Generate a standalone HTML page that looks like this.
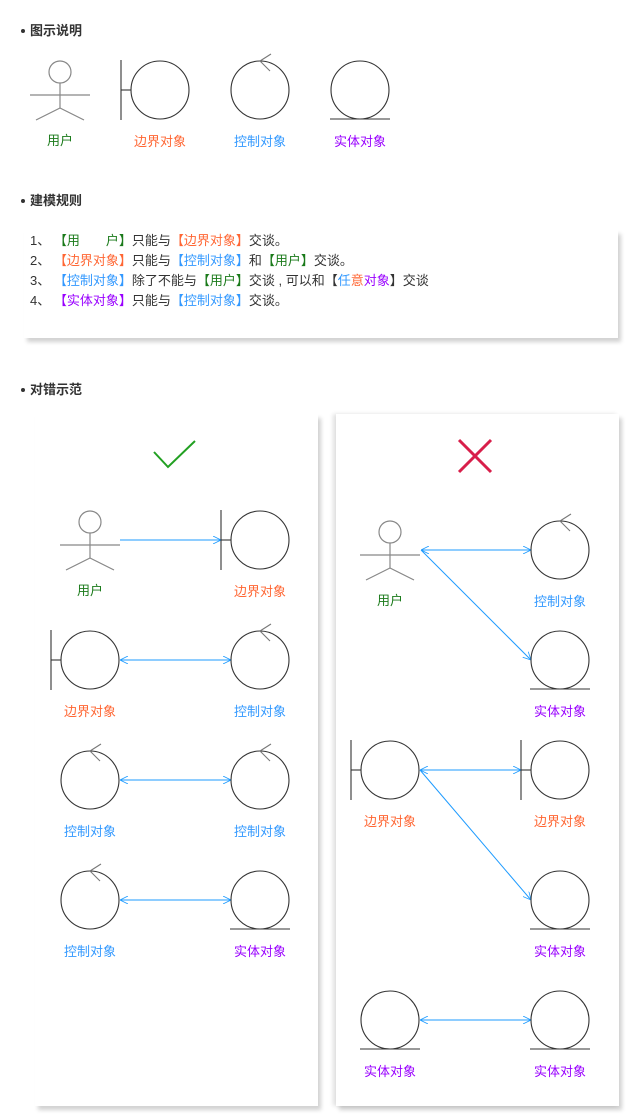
<!DOCTYPE html>
<html><head><meta charset="utf-8"><style>
body{margin:0;background:#fff;width:630px;height:1120px;overflow:hidden;position:relative;font-family:"Liberation Sans","Noto Sans CJK SC",sans-serif}
.box{position:absolute;background:#fff;box-shadow:3px 4px 4px rgba(0,0,0,.18)}
svg{position:absolute;left:0;top:0}
</style></head><body>
<div class="box" style="left:24px;top:230px;width:594px;height:108px"></div>
<div class="box" style="left:35px;top:414px;width:283px;height:692px"></div>
<div class="box" style="left:336px;top:414px;width:283px;height:692px;box-shadow:3px 4px 4px rgba(0,0,0,.18),-3px 0 4px rgba(0,0,0,.12)"></div>
<svg width="630" height="1120" viewBox="0 0 630 1120" font-family="Liberation Sans, Noto Sans CJK SC, sans-serif">
<defs>
<marker id="a" viewBox="0 0 10 10" refX="10" refY="5" markerWidth="8" markerHeight="8" orient="auto-start-reverse" markerUnits="userSpaceOnUse"><path d="M0,0 L10,5 L0,10" fill="none" stroke="#1e9bff" stroke-width="1"/></marker>
<g id="actor" stroke="#888" stroke-width="1.2" fill="none"><circle cx="0" cy="0" r="11" fill="#fff"/><line x1="0" y1="11" x2="0" y2="36"/><line x1="-30" y1="23" x2="30" y2="23"/><line x1="0" y1="36" x2="-24" y2="48"/><line x1="0" y1="36" x2="24" y2="48"/></g>
<g id="bnd" stroke="#333" stroke-width="1.1" fill="none"><circle cx="0" cy="0" r="29"/><line x1="-39" y1="-30" x2="-39" y2="30"/><line x1="-39" y1="0" x2="-29" y2="0"/></g>
<g id="ctl" stroke="#333" stroke-width="1.1" fill="none"><circle cx="0" cy="0" r="29"/><line x1="0" y1="-29" x2="11" y2="-36" stroke="#777"/><line x1="0" y1="-29" x2="10" y2="-19" stroke="#777"/></g>
<g id="ent" stroke="#333" stroke-width="1.1" fill="none"><circle cx="0" cy="0" r="29"/><line x1="-30" y1="29" x2="30" y2="29"/></g>
</defs>
<g font-size="13" font-weight="bold" fill="#333">
<circle cx="23" cy="31" r="2" fill="#333"/><text x="30" y="35">图示说明</text>
<circle cx="23" cy="201" r="2" fill="#333"/><text x="30" y="205">建模规则</text>
<circle cx="23" cy="390" r="2" fill="#333"/><text x="30" y="394">对错示范</text>
</g>
<use href="#actor" x="60" y="72"/>
<use href="#bnd" x="160" y="90"/>
<use href="#ctl" x="260" y="90"/>
<use href="#ent" x="360" y="90"/>
<g font-size="13" text-anchor="middle">
<text x="60" y="145" fill="#1a7a1a">用户</text>
<text x="160" y="146" fill="#ff6633">边界对象</text>
<text x="260" y="146" fill="#3399ff">控制对象</text>
<text x="360" y="146" fill="#9900ff">实体对象</text>
</g>
<g font-size="13" fill="#333" xml:space="preserve">
<text x="30" y="245">1、 <tspan fill="#1a7a1a">【用　　户】</tspan>只能与<tspan fill="#ff6633">【边界对象】</tspan>交谈。</text>
<text x="30" y="265">2、 <tspan fill="#ff6633">【边界对象】</tspan>只能与<tspan fill="#3399ff">【控制对象】</tspan>和<tspan fill="#1a7a1a">【用户】</tspan>交谈。</text>
<text x="30" y="285">3、 <tspan fill="#3399ff">【控制对象】</tspan>除了不能与<tspan fill="#1a7a1a">【用户】</tspan>交谈 , 可以和【<tspan fill="#3399ff">任</tspan><tspan fill="#ff6633">意</tspan><tspan fill="#9900ff">对象</tspan>】交谈</text>
<text x="30" y="305">4、 <tspan fill="#9900ff">【实体对象】</tspan>只能与<tspan fill="#3399ff">【控制对象】</tspan>交谈。</text>
</g>
<polyline points="154,452 168,467 195,441" fill="none" stroke="#22a022" stroke-width="2"/>
<g stroke="#d81e4a" stroke-width="3"><line x1="459" y1="440" x2="491" y2="472"/><line x1="491" y1="440" x2="459" y2="472"/></g>
<g stroke="#1e9bff" stroke-width="1">
<line x1="120" y1="540" x2="221" y2="540" marker-end="url(#a)"/>
<line x1="120" y1="660" x2="231" y2="660" marker-start="url(#a)" marker-end="url(#a)"/>
<line x1="120" y1="780" x2="231" y2="780" marker-start="url(#a)" marker-end="url(#a)"/>
<line x1="120" y1="900" x2="231" y2="900" marker-start="url(#a)" marker-end="url(#a)"/>
<line x1="421" y1="550" x2="531" y2="550" marker-start="url(#a)" marker-end="url(#a)"/>
<line x1="421" y1="550" x2="531" y2="660" marker-end="url(#a)"/>
<line x1="420" y1="770" x2="521" y2="770" marker-start="url(#a)" marker-end="url(#a)"/>
<line x1="420" y1="770" x2="531" y2="900" marker-end="url(#a)"/>
<line x1="420" y1="1020" x2="531" y2="1020" marker-start="url(#a)" marker-end="url(#a)"/>
</g>
<use href="#actor" x="90" y="522"/>
<use href="#bnd" x="260" y="540"/>
<use href="#bnd" x="90" y="660"/>
<use href="#ctl" x="260" y="660"/>
<use href="#ctl" x="90" y="780"/>
<use href="#ctl" x="260" y="780"/>
<use href="#ctl" x="90" y="900"/>
<use href="#ent" x="260" y="900"/>
<use href="#actor" x="390" y="532"/>
<use href="#ctl" x="560" y="550"/>
<use href="#ent" x="560" y="660"/>
<use href="#bnd" x="390" y="770"/>
<use href="#bnd" x="560" y="770"/>
<use href="#ent" x="560" y="900"/>
<use href="#ent" x="390" y="1020"/>
<use href="#ent" x="560" y="1020"/>
<g font-size="13" text-anchor="middle">
<text x="90" y="595" fill="#1a7a1a">用户</text>
<text x="260" y="596" fill="#ff6633">边界对象</text>
<text x="90" y="716" fill="#ff6633">边界对象</text>
<text x="260" y="716" fill="#3399ff">控制对象</text>
<text x="90" y="836" fill="#3399ff">控制对象</text>
<text x="260" y="836" fill="#3399ff">控制对象</text>
<text x="90" y="956" fill="#3399ff">控制对象</text>
<text x="260" y="956" fill="#9900ff">实体对象</text>
<text x="390" y="605" fill="#1a7a1a">用户</text>
<text x="560" y="606" fill="#3399ff">控制对象</text>
<text x="560" y="716" fill="#9900ff">实体对象</text>
<text x="390" y="826" fill="#ff6633">边界对象</text>
<text x="560" y="826" fill="#ff6633">边界对象</text>
<text x="560" y="956" fill="#9900ff">实体对象</text>
<text x="390" y="1076" fill="#9900ff">实体对象</text>
<text x="560" y="1076" fill="#9900ff">实体对象</text>
</g>
</svg>
</body></html>
